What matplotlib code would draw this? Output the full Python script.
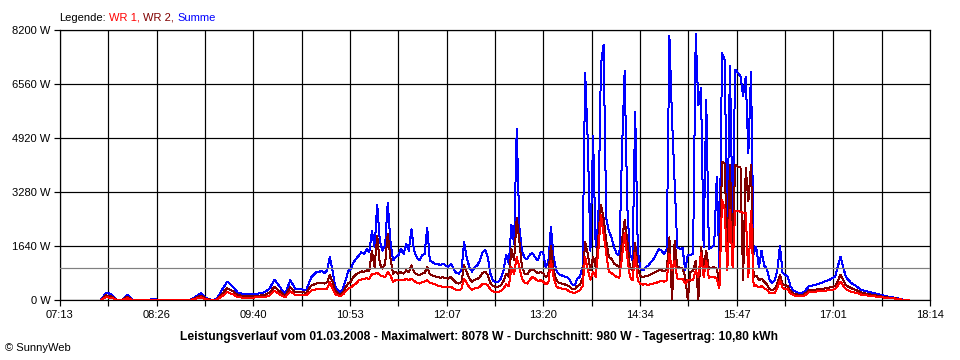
import numpy as np
import matplotlib
matplotlib.use("Agg")
import matplotlib.pyplot as plt
from matplotlib.offsetbox import TextArea, HPacker, AnchoredOffsetbox

# ------------------------- data (W) -------------------------
# SunnyWeb Leistungsverlauf 01.03.2008
T_START, T_END = "07:13", "18:14"
X_LABELS = ["07:13", "08:26", "09:40", "10:53", "12:07",
            "13:20", "14:34", "15:47", "17:01", "18:14"]
Y_TICKS = [0, 1640, 3280, 4920, 6560, 8200]
AVG_W = 980

# morning, 4 min steps
A_START, A_STEP = "07:44", 4
sum_a = [0, 220, 180, 0, 0, 160, 0, 0, 0, 0, 30, 0, 0, 0, 0, 0, 0, 0,
         100, 210, 60, 10, 20, 300, 560, 420, 230, 180, 170, 180, 200, 230,
         330, 620, 400, 180, 600, 320, 330, 300, 700, 850]
wr2_a = [0, 140, 110, 0, 0, 95, 0, 0, 0, 0, 15, 0, 0, 0, 0, 0, 0, 0,
         60, 130, 40, 5, 10, 180, 360, 280, 150, 120, 125, 125, 130, 150,
         220, 400, 260, 130, 390, 230, 240, 220, 440, 500]
wr1_a = [0, 80, 70, 0, 0, 55, 0, 0, 0, 0, 15, 0, 0, 0, 0, 0, 0, 0,
         40, 80, 20, 5, 10, 110, 240, 180, 90, 70, 75, 75, 80, 90,
         130, 280, 170, 80, 260, 150, 150, 140, 290, 330]

# midday, 2 min steps (one row = 10 min)
B_START, B_STEP = "10:30", 2
sum_b = [860, 880, 820, 900, 1300,
         900, 420, 300, 220, 350,
         600, 880, 950, 1150, 1250,
         1350, 1450, 1400, 1550, 1450,
         2100, 1600, 2900, 1800, 1500,
         1650, 2950, 1800, 1200, 1300,
         1350, 1550, 1400, 1700, 1500,
         2150, 1500, 1300, 1200, 1350,
         1400, 2200, 1200, 1150, 1100,
         1100, 1050, 1100, 1050, 1000,
         1100, 950, 820, 800, 900,
         1750, 1300, 1000, 860, 1000,
         1050, 1200, 1450, 1520, 1300,
         800, 580, 540, 560, 650,
         900, 1370, 1100, 2280, 1700,
         5200, 2200, 1500, 1270, 1250,
         1380, 1420, 1300, 1200, 1450,
         1470, 1000, 1150, 2225, 1300,
         900, 780, 750, 720, 700,
         620, 480, 450, 640, 700,
         1000, 6900, 4800, 1500, 4980,
         1600, 2400, 7165, 7745, 2500,
         2100, 1900, 1600, 1400, 1350,
         4555, 6955, 2830, 1400, 1200,
         5720, 1500, 950, 900, 1000,
         1050, 1150, 1250, 1400, 1550,
         1500, 1400, 1550, 8020, 5500,
         3590, 1600, 1550, 1580, 900,
         1370, 1370, 1400, 8078, 5920,
         6440, 1600, 6075, 1550, 1600,
         1650, 3745, 1000, 7500, 7300,
         2000, 7100, 2500, 7000, 6900,
         6800, 6200, 6780, 4460, 6930,
         1400, 1600, 1000, 1500, 1050,
         950, 620, 520, 600, 900,
         1650, 820, 760, 700, 420]
wr2_b = [510, 520, 500, 540, 760,
         560, 300, 200, 170, 240,
         380, 510, 560, 700, 780,
         820, 870, 850, 900, 880,
         1500, 1000, 1950, 1100, 950,
         1100, 2000, 1300, 800, 850,
         800, 850, 800, 900, 850,
         1050, 850, 780, 760, 800,
         820, 1000, 780, 740, 720,
         700, 680, 690, 670, 650,
         700, 600, 520, 500, 560,
         1050, 850, 650, 560, 620,
         630, 700, 820, 860, 760,
         520, 420, 400, 410, 450,
         580, 800, 700, 1550, 1200,
         2500, 1800, 1000, 800, 780,
         900, 940, 880, 820, 850,
         820, 700, 760, 1650, 900,
         620, 520, 500, 480, 450,
         420, 340, 320, 420, 460,
         650, 1750, 1400, 900, 1300,
         1000, 1900, 2890, 2500, 1800,
         1300, 1250, 1100, 1050, 1000,
         1800, 2430, 1800, 1000, 900,
         1730, 950, 720, 700, 720,
         740, 780, 820, 860, 900,
         900, 880, 920, 1900, 0,
         1800, 1000, 980, 960, 700,
         0, 860, 880, 1200, 0,
         1620, 1000, 1500, 950, 980,
         1000, 950, 500, 4200, 4150,
         1200, 4100, 1600, 4100, 4050,
         4050, 600, 4000, 3000, 4100,
         700, 740, 600, 650, 560,
         480, 330, 300, 330, 500,
         760, 480, 450, 420, 270]
wr1_b = [330, 340, 320, 350, 540,
         360, 180, 140, 120, 170,
         260, 350, 380, 450, 500,
         600, 620, 640, 660, 640,
         780, 800, 820, 760, 720,
         700, 850, 750, 560, 600,
         600, 620, 600, 640, 600,
         650, 580, 520, 500, 540,
         560, 600, 520, 500, 480,
         440, 420, 400, 380, 380,
         400, 350, 310, 300, 330,
         650, 520, 380, 310, 350,
         360, 400, 480, 500, 450,
         320, 260, 250, 240, 270,
         350, 480, 420, 1000, 800,
         1300, 1000, 650, 520, 500,
         620, 700, 650, 580, 600,
         560, 480, 520, 1200, 700,
         420, 360, 350, 340, 320,
         260, 230, 210, 260, 300,
         420, 1300, 900, 620, 850,
         700, 1500, 2580, 2000, 1400,
         850, 820, 750, 700, 680,
         1300, 2030, 1300, 700, 600,
         1430, 600, 480, 470, 480,
         460, 480, 500, 520, 560,
         580, 560, 600, 1400, 900,
         1200, 650, 640, 650, 500,
         600, 600, 620, 900, 700,
         1420, 700, 1200, 680, 700,
         700, 650, 350, 3050, 2750,
         900, 2750, 1000, 2700, 2700,
         2680, 2650, 2650, 700, 2720,
         420, 450, 380, 420, 360,
         320, 220, 200, 220, 350,
         600, 360, 340, 320, 200]

# late afternoon, 4 min steps
C_START, C_STEP = "16:30", 4
sum_c = [300, 220, 230, 420, 450, 500, 560, 620, 720, 1320, 700, 520,
         420, 300, 260, 220, 180, 140, 100, 80, 50, 0, 0]
wr2_c = [200, 160, 160, 290, 310, 330, 350, 380, 420, 760, 450, 360,
         300, 220, 190, 160, 130, 100, 80, 60, 40, 0, 0]
wr1_c = [150, 110, 110, 240, 250, 270, 280, 300, 330, 560, 330, 250,
         220, 160, 140, 120, 100, 80, 60, 50, 30, 0, 0]


def minutes(hhmm):
    h, m = hhmm.split(":")
    return int(h) * 60 + int(m)


def seg_times(start, step, n):
    return minutes(start) + step * np.arange(n)


t = np.concatenate([seg_times(A_START, A_STEP, len(sum_a)),
                    seg_times(B_START, B_STEP, len(sum_b)),
                    seg_times(C_START, C_STEP, len(sum_c))])
summe = np.array(sum_a + sum_b + sum_c)
wr1 = np.array(wr1_a + wr1_b + wr1_c)
wr2 = np.array(wr2_a + wr2_b + wr2_c)

# ------------------------- plot -------------------------
plt.rcParams["font.family"] = ["Liberation Sans", "DejaVu Sans"]
PX = 0.72  # one pixel in points at dpi 100

fig = plt.figure(figsize=(9.6, 3.6), dpi=100)
ax = fig.add_axes([60 / 960, 60 / 360, 870 / 960, 270 / 360])

x0, x1 = minutes(T_START), minutes(T_END)
ax.set_xlim(x0, x1)
ax.set_ylim(0, Y_TICKS[-1])

ax.plot(t, summe, color="#0000ff", lw=PX, zorder=3, antialiased=False)
ax.plot(t, wr2, color="#800000", lw=PX, zorder=4, antialiased=False)
ax.plot(t, wr1, color="#ff0000", lw=PX, zorder=5, antialiased=False)
ax.axhline(AVG_W, color="#808080", lw=1.2 * PX, zorder=6)

ax.set_xticks(np.linspace(x0, x1, len(X_LABELS)))
ax.set_xticklabels(X_LABELS)
ax.set_xticks(np.linspace(x0, x1, 2 * len(X_LABELS) - 1), minor=True)
ax.set_yticks(Y_TICKS)
ax.set_yticklabels([f"{v} W" for v in Y_TICKS])
ax.grid(True, which="both", axis="x", color="black", lw=1.2 * PX, zorder=1)
ax.grid(True, which="major", axis="y", color="black", lw=1.2 * PX, zorder=1)
ax.set_axisbelow(True)
ax.tick_params(which="both", direction="out", length=4, width=1.2 * PX,
               labelsize=8, pad=3, colors="black")
for sp in ax.spines.values():
    sp.set_linewidth(1.2 * PX)
    sp.set_color("black")

# legend line on top
parts = [("Legende:", "black"), ("WR 1,", "#ff0000"),
         ("WR 2,", "#800000"), ("Summe", "#0000ff")]
box = HPacker(children=[TextArea(s, textprops=dict(color=c, fontsize=8))
                        for s, c in parts],
              align="baseline", pad=0, sep=2.5)
fig.add_artist(AnchoredOffsetbox(loc="lower left", child=box, pad=0,
                                 borderpad=0, frameon=False,
                                 bbox_to_anchor=(59 / 960, 1 - 23 / 360),
                                 bbox_transform=fig.transFigure))

fig.text(479 / 960, 1 - 337 / 360,
         "Leistungsverlauf vom 01.03.2008 - Maximalwert: 8078 W - "
         "Durchschnitt: 980 W - Tagesertrag: 10,80 kWh",
         ha="center", va="center", fontsize=8.7, fontweight="bold")
fig.text(5 / 960, 1 - 348 / 360, "© SunnyWeb", ha="left", va="center",
         fontsize=8)

fig.savefig("out.png", dpi=100)
